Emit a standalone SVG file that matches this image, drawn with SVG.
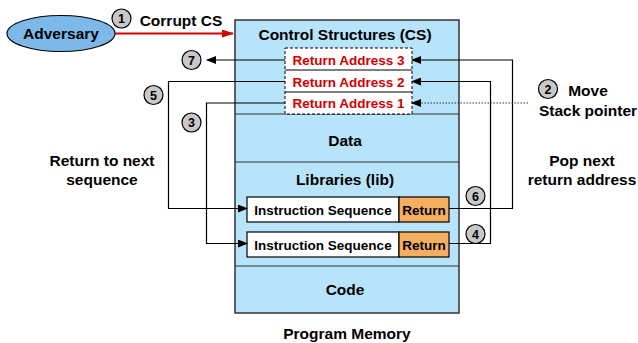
<svg xmlns="http://www.w3.org/2000/svg" width="638" height="343" viewBox="0 0 638 343">
<style>
text{font-family:"Liberation Sans",Arial,sans-serif;font-weight:bold;fill:#000;text-anchor:middle}
.lbl{font-size:15.5px}
.sec{font-size:15.5px}
.ra{font-size:13.5px;fill:#d40000}
.is{font-size:13.5px}
.num{font-size:12.5px}
.badge{fill:#c8c8c8;stroke:#000;stroke-width:1.2}
.ln{fill:none;stroke:#000;stroke-width:1.2}
.div{stroke:#333;stroke-width:1.2}
</style>
<defs>
<marker id="ah" markerWidth="10" markerHeight="8" refX="9" refY="4" orient="auto" markerUnits="userSpaceOnUse">
<path d="M0,0 L10,4 L0,8 z" fill="#000"/>
</marker>
<marker id="ahr" markerWidth="12" markerHeight="8" refX="11" refY="4" orient="auto" markerUnits="userSpaceOnUse">
<path d="M0,0 L12,4 L0,8 z" fill="#d40000"/>
</marker>
</defs>
<g id="memory">
<rect x="235" y="20" width="224" height="293" fill="#b7e4fb" stroke="#333" stroke-width="1.5"/>
<line class="div" x1="235" y1="114" x2="459" y2="114"/>
<line class="div" x1="235" y1="162" x2="459" y2="162"/>
<line class="div" x1="235" y1="266" x2="459" y2="266"/>
<text class="sec" x="345" y="39.5">Control Structures (CS)</text>
<text class="sec" x="345" y="146">Data</text>
<text class="sec" x="345" y="184.5">Libraries (lib)</text>
<text class="sec" x="345" y="294.5">Code</text>
<text class="lbl" x="347" y="338.5">Program Memory</text>
</g>
<g id="return-addresses">
<rect x="285" y="48" width="127" height="66" fill="#fff"/>
<line x1="285" y1="70" x2="412" y2="70" stroke="#000" stroke-width="1"/>
<line x1="285" y1="92" x2="412" y2="92" stroke="#000" stroke-width="1"/>
<rect x="285" y="48" width="127" height="66" fill="none" stroke="#000" stroke-width="1" stroke-dasharray="3,2"/>
<text class="ra" x="348.5" y="64.8">Return Address 3</text>
<text class="ra" x="348.5" y="86.5">Return Address 2</text>
<text class="ra" x="348.5" y="108">Return Address 1</text>
</g>
<g id="seq1">
<rect x="247" y="197" width="152" height="25" fill="#fff" stroke="#000" stroke-width="1.2"/>
<rect x="399" y="197" width="50" height="25" fill="#f5ae5f" stroke="#000" stroke-width="1.2"/>
<text class="is" x="323" y="214.5">Instruction Sequence</text>
<text class="is" x="424" y="214.5">Return</text>
</g>
<g id="seq2">
<rect x="247" y="232" width="152" height="25" fill="#fff" stroke="#000" stroke-width="1.2"/>
<rect x="399" y="232" width="50" height="25" fill="#f5ae5f" stroke="#000" stroke-width="1.2"/>
<text class="is" x="323" y="249.5">Instruction Sequence</text>
<text class="is" x="424" y="249.5">Return</text>
</g>
<g id="adversary">
<ellipse cx="61" cy="33.5" rx="54" ry="18" fill="#7db9e8" stroke="#000" stroke-width="1.2"/>
<text class="lbl" x="61" y="39">Adversary</text>
</g>
<g id="connectors">
<line x1="115" y1="33.5" x2="233" y2="33.5" stroke="#d40000" stroke-width="1.8" marker-end="url(#ahr)"/>
<line class="ln" x1="285" y1="60" x2="207" y2="60" marker-end="url(#ah)"/>
<polyline class="ln" points="285,81.5 168.5,81.5 168.5,208.5 247,208.5" marker-end="url(#ah)"/>
<polyline class="ln" points="285,103 206.5,103 206.5,243.5 247,243.5" marker-end="url(#ah)"/>
<polyline class="ln" points="449,208.5 512.5,208.5 512.5,60 412,60" marker-end="url(#ah)"/>
<polyline class="ln" points="449,243.5 490.5,243.5 490.5,81.5 412,81.5" marker-end="url(#ah)"/>
<line x1="528" y1="103" x2="412" y2="103" stroke="#333" stroke-width="1.2" stroke-dasharray="1.5,1.5" marker-end="url(#ah)"/>
</g>
<g id="badges">
<circle class="badge" cx="121.5" cy="18.5" r="9.5"/><text class="num" x="121.5" y="23">1</text>
<circle class="badge" cx="548" cy="89" r="9.5"/><text class="num" x="548" y="93.5">2</text>
<circle class="badge" cx="191.5" cy="122.5" r="9.5"/><text class="num" x="191.5" y="127">3</text>
<circle class="badge" cx="475.5" cy="234" r="9.5"/><text class="num" x="475.5" y="238.5">4</text>
<circle class="badge" cx="153.5" cy="95" r="9.5"/><text class="num" x="153.5" y="99.5">5</text>
<circle class="badge" cx="475.5" cy="196" r="9.5"/><text class="num" x="475.5" y="200.5">6</text>
<circle class="badge" cx="191.5" cy="60" r="9.5"/><text class="num" x="191.5" y="64.5">7</text>
</g>
<g id="labels">
<text class="lbl" x="181" y="26">Corrupt CS</text>
<text class="lbl" x="588" y="96">Move</text>
<text class="lbl" x="588" y="115.5">Stack pointer</text>
<text class="lbl" x="582" y="165.5">Pop next</text>
<text class="lbl" x="582" y="184.5">return address</text>
<text class="lbl" x="102" y="165.5">Return to next</text>
<text class="lbl" x="102" y="184.5">sequence</text>
</g>
</svg>
